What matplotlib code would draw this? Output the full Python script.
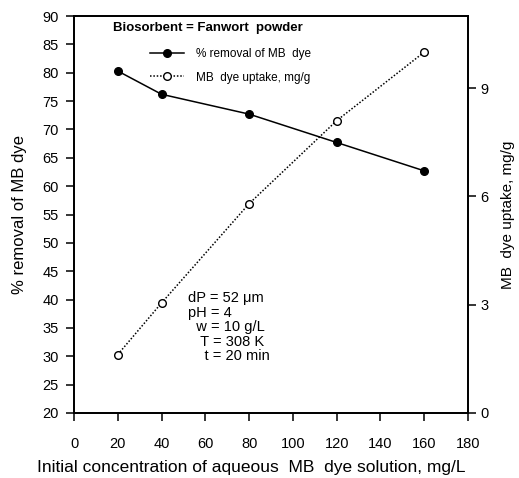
import matplotlib
matplotlib.use('Agg')
import matplotlib.pyplot as plt

plt.rcParams['font.family'] = ['Liberation Sans', 'DejaVu Sans']

# data
conc = [20, 40, 80, 120, 160]
removal = [80.3, 76.2, 72.7, 67.7, 62.7]
uptake = [1.62, 3.05, 5.8, 8.1, 10.0]

conditions = ['dP = 52 \u03bcm', 'pH = 4', '  w = 10 g/L', '   T = 308 K', '    t = 20 min']

fig = plt.figure(figsize=(5.19, 4.78), dpi=100)
ax = fig.add_axes([0.1426, 0.136, 0.7591, 0.8305])
ax2 = ax.twinx()

l1, = ax.plot(conc, removal, color='black', lw=1.1, marker='o', ms=5.5,
              mfc='black', mec='black', label='% removal of MB  dye')
l2, = ax2.plot(conc, uptake, color='black', lw=1.1, ls=(0, (1, 1.2)), marker='o', ms=5.5,
               mfc='white', mec='black', label='MB  dye uptake, mg/g')

ax.set_xlim(0, 180)
ax.set_ylim(20, 90)
ax.set_xticks(range(0, 181, 20))
ax.set_yticks(range(20, 91, 5))
ax2.set_ylim(0, 11)
ax2.set_yticks([0, 3, 6, 9])

for a in (ax, ax2):
    a.tick_params(direction='out', length=6, width=1.1, labelsize=10.5)
    for s in a.spines.values():
        s.set_linewidth(1.3)
ax.tick_params(axis='x', pad=11)
ax.tick_params(axis='y', pad=5)
ax2.tick_params(axis='y', pad=3)

ax.set_xlabel('Initial concentration of aqueous  MB  dye solution, mg/L', fontsize=12.5)
ax.xaxis.set_label_coords(0.449, -0.118)
ax.set_ylabel('% removal of MB dye', fontsize=12, labelpad=11)
ax2.set_ylabel('MB  dye uptake, mg/g', fontsize=11, labelpad=9)

ax.text(0.099, 0.985, 'Biosorbent = Fanwort  powder', transform=ax.transAxes,
        fontsize=9.5, fontweight='bold', va='top')
ax.legend(handles=[l1, l2], loc='upper left', bbox_to_anchor=(0.193, 0.92),
          frameon=False, fontsize=8.5, handlelength=2.9,
          handletextpad=1.0, labelspacing=1.0, borderpad=0, borderaxespad=0)

ax.text(0.289, 0.307, '\n'.join(conditions), transform=ax.transAxes,
        fontsize=10.5, va='top', linespacing=1.05)

fig.savefig('out.png', dpi=100)
